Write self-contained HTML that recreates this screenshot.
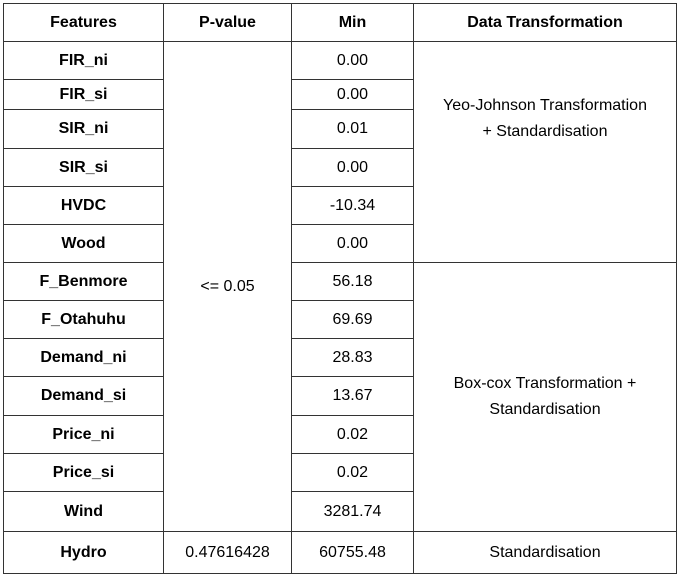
<!DOCTYPE html>
<html><head><meta charset="utf-8"><style>
html,body{margin:0;padding:0;background:#fff;width:682px;height:578px;overflow:hidden}
table{position:absolute;left:3px;top:3px;border-collapse:collapse;table-layout:fixed;font-family:"Liberation Sans",sans-serif;font-size:16px;color:#000}
td,th{border:1.3px solid #333;text-align:center;vertical-align:middle;padding:0;line-height:26px}
th,td.f{font-weight:bold}
td.yj{vertical-align:top;padding-top:51px}
</style></head><body>
<table>
<colgroup><col style="width:160px"><col style="width:128px"><col style="width:122px"><col style="width:263px"></colgroup>
<tr style="height:38px"><th>Features</th><th>P-value</th><th>Min</th><th>Data Transformation</th></tr>
<tr style="height:38px"><td class="f">FIR_ni</td><td rowspan="13">&lt;= 0.05</td><td>0.00</td><td rowspan="6" class="yj">Yeo-Johnson Transformation<br>+ Standardisation</td></tr>
<tr style="height:30px"><td class="f">FIR_si</td><td>0.00</td></tr>
<tr style="height:39px"><td class="f">SIR_ni</td><td>0.01</td></tr>
<tr style="height:38px"><td class="f">SIR_si</td><td>0.00</td></tr>
<tr style="height:38px"><td class="f">HVDC</td><td>-10.34</td></tr>
<tr style="height:38px"><td class="f">Wood</td><td>0.00</td></tr>
<tr style="height:38px"><td class="f">F_Benmore</td><td>56.18</td><td rowspan="7">Box-cox Transformation +<br>Standardisation</td></tr>
<tr style="height:38px"><td class="f">F_Otahuhu</td><td>69.69</td></tr>
<tr style="height:38px"><td class="f">Demand_ni</td><td>28.83</td></tr>
<tr style="height:39px"><td class="f">Demand_si</td><td>13.67</td></tr>
<tr style="height:38px"><td class="f">Price_ni</td><td>0.02</td></tr>
<tr style="height:38px"><td class="f">Price_si</td><td>0.02</td></tr>
<tr style="height:40px"><td class="f">Wind</td><td>3281.74</td></tr>
<tr style="height:42px"><td class="f">Hydro</td><td>0.47616428</td><td>60755.48</td><td>Standardisation</td></tr>
</table>
</body></html>
